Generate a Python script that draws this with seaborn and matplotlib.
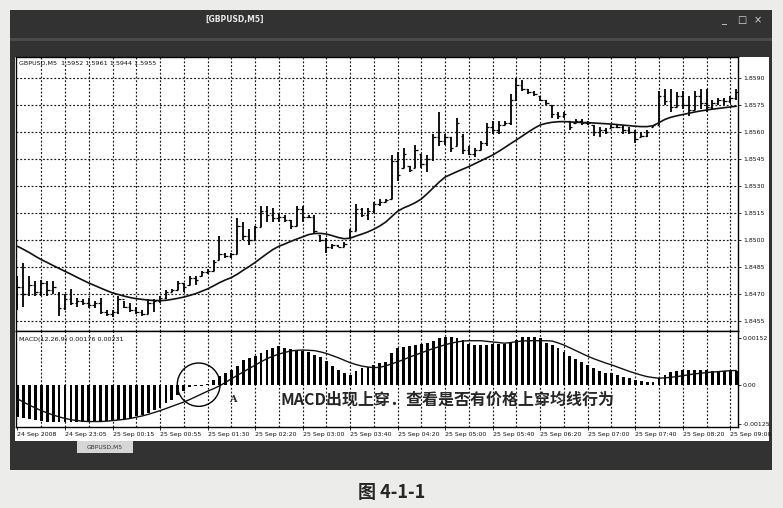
import matplotlib
matplotlib.use("Agg")
import matplotlib.pyplot as plt
from matplotlib.patches import Rectangle, Ellipse
import numpy as np
import seaborn as sns

# GBPUSD M5 bars (one value per bar, 122 bars)
highs = [
    1.8480, 1.8487, 1.8480, 1.8477, 1.8478, 1.8477, 1.8477, 1.8471, 1.8470, 1.8473,
    1.8468, 1.8467, 1.8468, 1.8466, 1.8468, 1.8461, 1.8461, 1.8469, 1.8466, 1.8465,
    1.8463, 1.8461, 1.8467, 1.8467, 1.8469, 1.8472, 1.8473, 1.8477, 1.8476, 1.8480,
    1.8480, 1.8483, 1.8484, 1.8489, 1.8502, 1.8493, 1.8493, 1.8512, 1.8510, 1.8506,
    1.8508, 1.8519, 1.8519, 1.8518, 1.8515, 1.8514, 1.8511, 1.8519, 1.8519, 1.8514,
    1.8514, 1.8503, 1.8501, 1.8498, 1.8497, 1.8499, 1.8506, 1.8520, 1.8518, 1.8518,
    1.8521, 1.8523, 1.8523, 1.8547, 1.8549, 1.8551, 1.8541, 1.8553, 1.8548, 1.8547,
    1.8559, 1.8571, 1.8559, 1.8557, 1.8568, 1.8559, 1.8552, 1.8551, 1.8555, 1.8565,
    1.8566, 1.8566, 1.8566, 1.8581, 1.8590, 1.8589, 1.8584, 1.8583, 1.8580, 1.8578,
    1.8575, 1.8571, 1.8571, 1.8566, 1.8567, 1.8567, 1.8566, 1.8564, 1.8563, 1.8562,
    1.8564, 1.8564, 1.8564, 1.8563, 1.8561, 1.8560, 1.8561, 1.8564, 1.8583, 1.8584,
    1.8584, 1.8582, 1.8583, 1.8580, 1.8583, 1.8584, 1.8584, 1.8578, 1.8579, 1.8579,
    1.8580, 1.8584,
]
lows = [
    1.8461, 1.8463, 1.8469, 1.8469, 1.8469, 1.8469, 1.8470, 1.8458, 1.8461, 1.8464,
    1.8463, 1.8464, 1.8462, 1.8462, 1.8459, 1.8458, 1.8457, 1.8459, 1.8462, 1.8460,
    1.8459, 1.8458, 1.8459, 1.8460, 1.8465, 1.8467, 1.8471, 1.8472, 1.8471, 1.8475,
    1.8475, 1.8480, 1.8481, 1.8483, 1.8489, 1.8490, 1.8490, 1.8492, 1.8500, 1.8497,
    1.8500, 1.8507, 1.8510, 1.8510, 1.8510, 1.8510, 1.8506, 1.8508, 1.8510, 1.8512,
    1.8504, 1.8499, 1.8493, 1.8495, 1.8496, 1.8496, 1.8501, 1.8505, 1.8513, 1.8511,
    1.8515, 1.8519, 1.8521, 1.8523, 1.8533, 1.8540, 1.8538, 1.8540, 1.8540, 1.8538,
    1.8544, 1.8552, 1.8553, 1.8549, 1.8552, 1.8548, 1.8547, 1.8546, 1.8550, 1.8552,
    1.8559, 1.8559, 1.8564, 1.8564, 1.8577, 1.8583, 1.8581, 1.8580, 1.8577, 1.8575,
    1.8568, 1.8567, 1.8568, 1.8561, 1.8565, 1.8564, 1.8564, 1.8558, 1.8557, 1.8559,
    1.8562, 1.8562, 1.8559, 1.8559, 1.8554, 1.8557, 1.8557, 1.8563, 1.8564, 1.8575,
    1.8571, 1.8574, 1.8573, 1.8569, 1.8572, 1.8573, 1.8571, 1.8573, 1.8575, 1.8575,
    1.8576, 1.8578,
]
opens = [
    1.8465, 1.8474, 1.8470, 1.8475, 1.8471, 1.8476, 1.8472, 1.8470, 1.8462, 1.8467,
    1.8465, 1.8466, 1.8465, 1.8464, 1.8465, 1.8460, 1.8459, 1.8460, 1.8467, 1.8463,
    1.8461, 1.8460, 1.8459, 1.8465, 1.8466, 1.8468, 1.8471, 1.8472, 1.8476, 1.8475,
    1.8479, 1.8480, 1.8482, 1.8483, 1.8489, 1.8492, 1.8491, 1.8492, 1.8508, 1.8502,
    1.8500, 1.8507, 1.8516, 1.8514, 1.8512, 1.8513, 1.8511, 1.8508, 1.8517, 1.8513,
    1.8513, 1.8503, 1.8500, 1.8496, 1.8497, 1.8496, 1.8501, 1.8505, 1.8517, 1.8514,
    1.8516, 1.8520, 1.8521, 1.8523, 1.8544, 1.8540, 1.8541, 1.8540, 1.8548, 1.8542,
    1.8545, 1.8557, 1.8555, 1.8557, 1.8552, 1.8558, 1.8550, 1.8548, 1.8550, 1.8554,
    1.8563, 1.8561, 1.8564, 1.8565, 1.8578, 1.8586, 1.8584, 1.8582, 1.8580, 1.8578,
    1.8575, 1.8570, 1.8569, 1.8566, 1.8565, 1.8566, 1.8565, 1.8564, 1.8560, 1.8561,
    1.8562, 1.8563, 1.8563, 1.8561, 1.8560, 1.8557, 1.8558, 1.8563, 1.8564, 1.8580,
    1.8577, 1.8574, 1.8580, 1.8575, 1.8572, 1.8580, 1.8576, 1.8574, 1.8576, 1.8578,
    1.8577, 1.8579,
]
closes = [
    1.8474, 1.8470, 1.8475, 1.8471, 1.8476, 1.8472, 1.8474, 1.8462, 1.8467, 1.8465,
    1.8466, 1.8465, 1.8464, 1.8465, 1.8460, 1.8459, 1.8460, 1.8467, 1.8463, 1.8461,
    1.8460, 1.8459, 1.8465, 1.8466, 1.8468, 1.8471, 1.8472, 1.8476, 1.8474, 1.8479,
    1.8478, 1.8482, 1.8483, 1.8488, 1.8492, 1.8491, 1.8492, 1.8508, 1.8502, 1.8500,
    1.8507, 1.8516, 1.8514, 1.8512, 1.8513, 1.8511, 1.8508, 1.8517, 1.8513, 1.8513,
    1.8505, 1.8500, 1.8496, 1.8497, 1.8496, 1.8498, 1.8505, 1.8517, 1.8514, 1.8516,
    1.8520, 1.8521, 1.8522, 1.8544, 1.8536, 1.8548, 1.8539, 1.8550, 1.8542, 1.8545,
    1.8557, 1.8555, 1.8557, 1.8551, 1.8565, 1.8550, 1.8548, 1.8550, 1.8554, 1.8563,
    1.8561, 1.8564, 1.8565, 1.8578, 1.8586, 1.8584, 1.8582, 1.8581, 1.8578, 1.8576,
    1.8570, 1.8569, 1.8570, 1.8563, 1.8566, 1.8565, 1.8565, 1.8560, 1.8561, 1.8560,
    1.8563, 1.8563, 1.8561, 1.8560, 1.8556, 1.8558, 1.8560, 1.8564, 1.8580, 1.8577,
    1.8574, 1.8580, 1.8575, 1.8572, 1.8580, 1.8576, 1.8574, 1.8576, 1.8578, 1.8577,
    1.8579, 1.8582,
]
# moving average drawn over the bars
ma_line = [
    1.84965, 1.84948, 1.84930, 1.84910, 1.84891, 1.84875, 1.84858, 1.84842, 1.84826, 1.84810,
    1.84793, 1.84777, 1.84761, 1.84747, 1.84733, 1.84719, 1.84706, 1.84697, 1.84688, 1.84680,
    1.84674, 1.84670, 1.84666, 1.84664, 1.84663, 1.84665, 1.84670, 1.84676, 1.84683, 1.84692,
    1.84702, 1.84715, 1.84728, 1.84745, 1.84763, 1.84778, 1.84791, 1.84810, 1.84832, 1.84853,
    1.84875, 1.84900, 1.84924, 1.84947, 1.84965, 1.84978, 1.84992, 1.85005, 1.85017, 1.85030,
    1.85036, 1.85037, 1.85033, 1.85024, 1.85014, 1.85007, 1.85010, 1.85022, 1.85033, 1.85045,
    1.85060, 1.85078, 1.85100, 1.85130, 1.85160, 1.85178, 1.85192, 1.85208, 1.85228, 1.85258,
    1.85290, 1.85322, 1.85350, 1.85365, 1.85380, 1.85394, 1.85408, 1.85424, 1.85440, 1.85456,
    1.85472, 1.85492, 1.85513, 1.85535, 1.85556, 1.85578, 1.85600, 1.85621, 1.85639, 1.85648,
    1.85654, 1.85657, 1.85658, 1.85656, 1.85654, 1.85653, 1.85652, 1.85650, 1.85648, 1.85646,
    1.85644, 1.85641, 1.85638, 1.85635, 1.85632, 1.85630, 1.85630, 1.85635, 1.85652, 1.85670,
    1.85682, 1.85690, 1.85697, 1.85704, 1.85711, 1.85717, 1.85722, 1.85727, 1.85731, 1.85735,
    1.85739, 1.85743,
]
# MACD(12,26,9): histogram and signal line
macd_hist = [
    -0.00105, -0.00108, -0.00111, -0.00114, -0.00116, -0.00118, -0.00119, -0.00120, -0.00121, -0.00121,
    -0.00121, -0.00120, -0.00120, -0.00119, -0.00118, -0.00117, -0.00115, -0.00113, -0.00110, -0.00106,
    -0.00101, -0.00096, -0.00089, -0.00082, -0.00074, -0.00058, -0.00047, -0.00033, -0.00020, -0.00008,
    -0.00004, -0.00002, 0.00003, 0.00017, 0.00028, 0.00040, 0.00050, 0.00062, 0.00082, 0.00088,
    0.00093, 0.00103, 0.00114, 0.00120, 0.00125, 0.00121, 0.00116, 0.00111, 0.00111, 0.00108,
    0.00098, 0.00092, 0.00077, 0.00060, 0.00050, 0.00040, 0.00033, 0.00044, 0.00055, 0.00057,
    0.00066, 0.00070, 0.00073, 0.00102, 0.00118, 0.00124, 0.00126, 0.00129, 0.00132, 0.00137,
    0.00143, 0.00151, 0.00156, 0.00154, 0.00151, 0.00146, 0.00132, 0.00129, 0.00129, 0.00129,
    0.00132, 0.00132, 0.00132, 0.00137, 0.00146, 0.00154, 0.00156, 0.00154, 0.00151, 0.00137,
    0.00129, 0.00118, 0.00108, 0.00093, 0.00083, 0.00075, 0.00065, 0.00054, 0.00046, 0.00040,
    0.00038, 0.00032, 0.00027, 0.00022, 0.00016, 0.00013, 0.00011, 0.00011, 0.00022, 0.00032,
    0.00043, 0.00046, 0.00048, 0.00048, 0.00048, 0.00050, 0.00048, 0.00046, 0.00046, 0.00046,
    0.00046, 0.00046,
]
macd_signal = [
    -0.00045, -0.00055, -0.00065, -0.00074, -0.00083, -0.00090, -0.00097, -0.00103, -0.00108, -0.00112,
    -0.00115, -0.00117, -0.00118, -0.00118, -0.00118, -0.00117, -0.00115, -0.00113, -0.00111, -0.00108,
    -0.00104, -0.00100, -0.00095, -0.00089, -0.00083, -0.00076, -0.00069, -0.00062, -0.00055, -0.00047,
    -0.00038, -0.00029, -0.00020, -0.00012, -0.00003, 0.00008, 0.00020, 0.00031, 0.00042, 0.00053,
    0.00064, 0.00075, 0.00085, 0.00093, 0.00100, 0.00105, 0.00110, 0.00112, 0.00113, 0.00112,
    0.00111, 0.00107, 0.00102, 0.00095, 0.00088, 0.00080, 0.00072, 0.00066, 0.00061, 0.00058,
    0.00056, 0.00057, 0.00062, 0.00068, 0.00075, 0.00082, 0.00090, 0.00097, 0.00104, 0.00111,
    0.00118, 0.00124, 0.00130, 0.00135, 0.00139, 0.00142, 0.00143, 0.00143, 0.00143, 0.00141,
    0.00139, 0.00137, 0.00135, 0.00137, 0.00140, 0.00142, 0.00143, 0.00143, 0.00143, 0.00143,
    0.00142, 0.00136, 0.00129, 0.00120, 0.00111, 0.00102, 0.00093, 0.00085, 0.00078, 0.00071,
    0.00065, 0.00058, 0.00051, 0.00044, 0.00038, 0.00032, 0.00027, 0.00024, 0.00022, 0.00023,
    0.00025, 0.00027, 0.00030, 0.00033, 0.00036, 0.00038, 0.00040, 0.00042, 0.00043, 0.00045,
    0.00046, 0.00047,
]
time_labels = [
    "24 Sep 2008", "24 Sep 23:05", "25 Sep 00:15", "25 Sep 00:55", "25 Sep 01:30",
    "25 Sep 02:20", "25 Sep 03:00", "25 Sep 03:40", "25 Sep 04:20", "25 Sep 05:00",
    "25 Sep 05:40", "25 Sep 06:20", "25 Sep 07:00", "25 Sep 07:40", "25 Sep 08:20",
    "25 Sep 09:00",
]
price_ticks = [1.8455, 1.8470, 1.8485, 1.8500, 1.8515, 1.8530, 1.8545, 1.8560, 1.8575, 1.8590]
macd_ticks = [0.00152, 0.0, -0.00125]
macd_tick_labels = ["0.00152", "0.00", "-0.00125"]

sns.set_style("white")
plt.rcParams['font.family'] = ['DejaVu Sans', 'Noto Sans CJK SC']

W, H = 783, 508
fig = plt.figure(figsize=(W / 100, H / 100), dpi=100)
fig.patch.set_facecolor('#ececea')


def box(x0, y0, x1, y1):
    """pixel box (top-left origin) -> figure fraction rect"""
    return [x0 / W, 1 - y1 / H, (x1 - x0) / W, (y1 - y0) / H]


def frect(x0, y0, x1, y1, color, z=0):
    r = box(x0, y0, x1, y1)
    fig.add_artist(Rectangle((r[0], r[1]), r[2], r[3], transform=fig.transFigure,
                             facecolor=color, edgecolor='none', zorder=z))


# window frame, title bar and chart background
frect(10, 10, 772, 470, '#323232')
frect(10, 38, 772, 41, '#4a4a4a')
frect(15, 57, 769, 441, 'white')
frect(77, 441, 133, 453, '#d6d6d6')
fig.text(235 / W, 1 - 19 / H, "[GBPUSD,M5]", color='#e8e8e8', fontsize=5.5,
         weight='bold', ha='center', va='center')
for xp, sym in [(724, "_"), (742, "□"), (758, "×")]:
    fig.text(xp / W, 1 - 20 / H, sym, color='#d8d8d8', fontsize=7, ha='center', va='center')
fig.text(105 / W, 1 - 447 / H, "GBPUSD,M5", color='#333333', fontsize=4.3, ha='center', va='center')

ax_p = fig.add_axes(box(16, 57, 738, 331))
ax_m = fig.add_axes(box(16, 331, 738, 427))

idx = np.arange(len(highs))
grid_kw = dict(color='#1a1a1a', lw=0.85, ls=(0, (1.6, 1.6)), zorder=0)

# price panel: OHLC bars + moving average
ax_p.vlines(idx, lows, highs, color='black', lw=1.3, zorder=3)
ax_p.hlines(opens, idx - 0.4, idx, color='black', lw=0.9, zorder=3)
ax_p.hlines(closes, idx, idx + 0.4, color='black', lw=0.9, zorder=3)
sns.lineplot(x=idx, y=ma_line, ax=ax_p, color='#111111', lw=1.2, zorder=4)
for p in price_ticks:
    ax_p.axhline(p, **grid_kw)
ax_p.set_ylim(1.844944, 1.860167)
ax_p.set_yticks(price_ticks)
ax_p.set_yticklabels([f"{p:.4f}" for p in price_ticks])

# MACD panel
sns.barplot(x=idx, y=macd_hist, ax=ax_m, color='black', saturation=1, width=0.48,
            errorbar=None, native_scale=True, linewidth=0, zorder=3)
sns.lineplot(x=idx, y=macd_signal, ax=ax_m, color='#111111', lw=1.0, zorder=4)
ax_m.set_ylim(-0.001357, 0.001744)
ax_m.set_yticks(macd_ticks)
ax_m.set_yticklabels(macd_tick_labels)
ax_m.add_patch(Ellipse((30.5, 0.00001), 7.2, 0.00140, fill=False, edgecolor='black',
                       lw=1.0, zorder=5))

for ax in (ax_p, ax_m):
    ax.set_facecolor('white')
    ax.set_xlim(-0.25, 121.3)
    for v in range(4, 121, 4):
        ax.axvline(v, **grid_kw)
    ax.yaxis.tick_right()
    ax.tick_params(axis='y', right=True, left=False, length=2, width=0.6,
                   labelsize=4.5, pad=1.5, colors='#111111')
    ax.set_xlabel("")
    ax.set_ylabel("")
    for s in ax.spines.values():
        s.set_color('black')
        s.set_linewidth(1.0)

ax_p.set_xticks([])
ax_m.set_xticks(range(0, 121, 8))
ax_m.set_xticklabels(time_labels)
ax_m.tick_params(axis='x', bottom=True, length=2, width=0.6, labelsize=4.5, pad=1.5,
                 colors='#111111')
for lab in ax_m.get_xticklabels():
    lab.set_ha('left')

# panel captions
fig.text(19 / W, 1 - 63 / H, "GBPUSD,M5  1.5952 1.5961 1.5944 1.5955", fontsize=4.6,
         ha='left', va='center', color='#111111')
fig.text(19 / W, 1 - 339 / H, "MACD(12,26,9) 0.00176 0.00231", fontsize=4.6,
         ha='left', va='center', color='#111111')

# annotation and figure caption
fig.text(233 / W, 1 - 400 / H, "A", fontsize=7, weight='bold', family='DejaVu Serif',
         ha='center', va='center')
fig.text(281 / W, 1 - 400 / H, "MACD出现上穿．查看是否有价格上穿均线行为", fontsize=11.5,
         weight='bold', family=['Noto Sans CJK SC', 'DejaVu Sans'], ha='left', va='center')
fig.text(392 / W, 1 - 492 / H, "图 4-1-1", fontsize=13, weight='bold',
         family=['Noto Sans CJK SC', 'DejaVu Sans'], ha='center', va='center')

fig.savefig("out.png", dpi=100, facecolor=fig.get_facecolor())
